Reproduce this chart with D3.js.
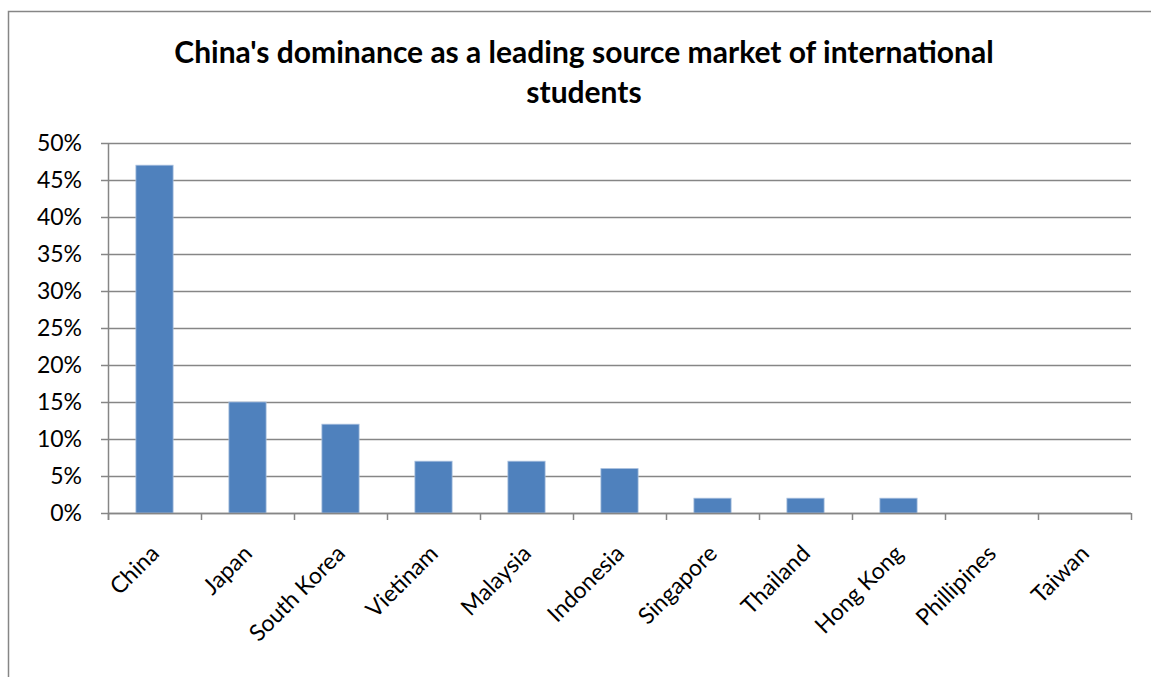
<!DOCTYPE html>
<html>
<head>
<meta charset="utf-8">
<script src="https://cdn.jsdelivr.net/npm/d3@7"></script>
<style>
  body { margin: 0; background: #fff; }
  svg { display: block; font-family: Lato, "Open Sans", sans-serif; }
</style>
</head>
<body>
<div id="chart"></div>
<script>
// data
var countries = ["China", "Japan", "South Korea", "Vietinam", "Malaysia", "Indonesia",
                 "Singapore", "Thailand", "Hong Kong", "Phillipines", "Taiwan"];
var shares = [0.47, 0.15, 0.12, 0.07, 0.07, 0.06, 0.02, 0.02, 0.02, 0, 0];
var yTicks = [0, 0.05, 0.10, 0.15, 0.20, 0.25, 0.30, 0.35, 0.40, 0.45, 0.50];
var titleLines = ["China's dominance as a leading source market of international", "students"];

var width = 1151, height = 677;
var margin = {left: 108, right: 20, top: 143, bottom: 164};

var svg = d3.select("#chart").append("svg")
    .attr("width", width)
    .attr("height", height);

// chart frame (cut off on right and bottom like the screenshot)
svg.append("path")
    .attr("d", "M8.5," + height + "V11.5H" + width)
    .attr("fill", "none")
    .attr("stroke", "#868686")
    .attr("stroke-width", 1.5);

var x = d3.scaleBand()
    .domain(countries)
    .range([margin.left, width - margin.right])
    .paddingInner(0.6)
    .paddingOuter(0.3);

var y = d3.scaleLinear()
    .domain([0, 0.5])
    .range([height - margin.bottom, margin.top]);

// gridlines
svg.append("g")
    .selectAll("line")
    .data(yTicks)
    .enter().append("line")
    .attr("x1", margin.left - 7)
    .attr("x2", width - margin.right)
    .attr("y1", function(d) { return Math.round(y(d)) + 0.5; })
    .attr("y2", function(d) { return Math.round(y(d)) + 0.5; })
    .attr("stroke", "#868686")
    .attr("stroke-width", 1.5);

// y labels
svg.append("g")
    .selectAll("text")
    .data(yTicks)
    .enter().append("text")
    .attr("x", margin.left - 26)
    .attr("y", function(d) { return y(d); })
    .attr("dy", "0.36em")
    .attr("text-anchor", "end")
    .attr("font-size", 23)
    .attr("fill", "#000")
    .text(d3.format(".0%"));

// bars
svg.append("g")
    .selectAll("rect")
    .data(shares)
    .enter().append("rect")
    .attr("x", function(d, i) { return x(countries[i]); })
    .attr("y", function(d) { return y(d); })
    .attr("width", x.bandwidth())
    .attr("height", function(d) { return y(0) - y(d); })
    .attr("fill", "#4F81BD")
    .attr("stroke", "#A7BFDE")
    .attr("stroke-width", 0.8)
    .style("display", function(d) { return d > 0 ? null : "none"; });

// y axis line
svg.append("line")
    .attr("x1", margin.left + 0.5).attr("x2", margin.left + 0.5)
    .attr("y1", y(0.5)).attr("y2", y(0) + 7)
    .attr("stroke", "#868686").attr("stroke-width", 1.5);

// x axis line + category ticks
var step = x.step();
var x0 = x(countries[0]) - x.paddingOuter() * step;
svg.append("line")
    .attr("x1", margin.left).attr("x2", width - margin.right)
    .attr("y1", y(0) + 0.5).attr("y2", y(0) + 0.5)
    .attr("stroke", "#868686").attr("stroke-width", 1.5);
svg.append("g")
    .selectAll("line")
    .data(d3.range(countries.length + 1))
    .enter().append("line")
    .attr("x1", function(i) { return x0 + i * step + 0.5; })
    .attr("x2", function(i) { return x0 + i * step + 0.5; })
    .attr("y1", y(0)).attr("y2", y(0) + 7)
    .attr("stroke", "#868686").attr("stroke-width", 1.5);

// rotated category labels
svg.append("g")
    .selectAll("text")
    .data(countries)
    .enter().append("text")
    .attr("transform", function(d) {
        return "translate(" + (x(d) + x.bandwidth() / 2 + 6) + "," + (y(0) + 42) + ") rotate(-45)";
    })
    .attr("text-anchor", "end")
    .attr("font-size", 23)
    .attr("fill", "#000")
    .text(function(d) { return d; });

// title
svg.append("text")
    .attr("x", 584)
    .attr("y", 63)
    .attr("text-anchor", "middle")
    .attr("font-size", 30)
    .attr("font-weight", "bold")
    .selectAll("tspan")
    .data(titleLines)
    .enter().append("tspan")
    .attr("x", 584)
    .attr("dy", function(d, i) { return i ? 40 : 0; })
    .text(function(d) { return d; });
</script>
</body>
</html>
